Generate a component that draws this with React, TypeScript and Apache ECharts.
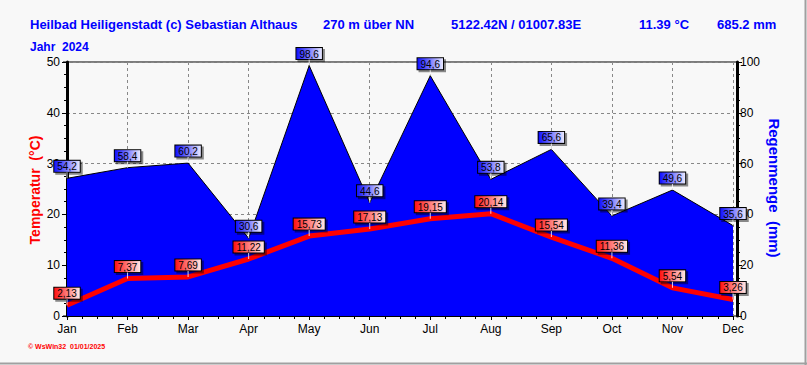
import React, { useEffect, useRef } from "react";
import * as echarts from "echarts";

const months = ["Jan", "Feb", "Mar", "Apr", "May", "Jun", "Jul", "Aug", "Sep", "Oct", "Nov", "Dec"];
const temperature = [2.13, 7.37, 7.69, 11.22, 15.73, 17.13, 19.15, 20.14, 15.54, 11.36, 5.54, 3.26];
const rainfall = [54.2, 58.4, 60.2, 30.6, 98.6, 44.6, 94.6, 53.8, 65.6, 39.4, 49.6, 35.6];

const titleMain = "Heilbad Heiligenstadt (c) Sebastian Althaus";
const titleAlt = "270 m über NN";
const titleCoord = "5122.42N / 01007.83E";
const titleTemp = "11.39 °C";
const titleRain = "685.2 mm";
const titleYear = "Jahr  2024";
const footer = "© WsWin32  01/01/2025";

const BLUE = "#0000ff";
const RED = "#ff0000";

function grad(c1: string, c2: string) {
  return {
    type: "linear",
    x: 0,
    y: 0,
    x2: 1,
    y2: 0,
    colorStops: [
      { offset: 0, color: c1 },
      { offset: 1, color: c2 },
    ],
  };
}

function labelStyle(bg: any, digits: number) {
  return {
    show: true,
    position: "top",
    distance: 6,
    fontFamily: "Liberation Sans, Arial, sans-serif",
    fontSize: 10,
    lineHeight: 10,
    color: "#000",
    backgroundColor: bg,
    borderColor: "#000",
    borderWidth: 1,
    padding: [1, 3, 0, 3],
    shadowColor: "rgba(0,0,0,0.45)",
    shadowOffsetX: 2,
    shadowOffsetY: 2,
    shadowBlur: 0,
    formatter: (p: any) => Number(p.value[1]).toFixed(digits).replace(".", ","),
  };
}

export default function App() {
  const ref = useRef<HTMLDivElement>(null);
  useEffect(() => {
    if (!ref.current) return;
    const chart = echarts.init(ref.current, undefined, { renderer: "svg" });
    const tData = temperature.map((v, i) => [i, v]);
    const rData = rainfall.map((v, i) => [i, v]);
    const font = "Liberation Sans, Arial, sans-serif";
    const titleStyle = (text: string, x: number, y: number, size = 13) => ({
      type: "text",
      x,
      y,
      style: {
        text,
        fill: BLUE,
        font: `bold ${size}px ${font}`,
        verticalAlign: "middle",
      },
    });
    chart.setOption({
      animation: false,
      backgroundColor: "#f8f8f8",
      textStyle: { fontFamily: font },
      grid: { left: 67, right: 74, top: 62, bottom: 49 },
      xAxis: {
        type: "value",
        min: 0,
        max: 11,
        interval: 1,
        axisLine: { show: true, lineStyle: { color: "#000", width: 1 } },
        axisTick: { show: true, length: 4, lineStyle: { color: "#000" } },
        minorTick: { show: true, splitNumber: 4, length: 3, lineStyle: { color: "#000" } },
        splitLine: { show: true, lineStyle: { color: "#888", type: [3, 3], width: 1 } },
        axisLabel: {
          color: "#000",
          fontSize: 12,
          margin: 7,
          formatter: (v: number) => months[v] ?? "",
        },
      },
      yAxis: [
        {
          type: "value",
          min: 0,
          max: 50,
          interval: 10,
          offset: 4,
          axisLine: { show: true, lineStyle: { color: "#000", width: 3 } },
          axisTick: { show: true, length: 5, lineStyle: { color: "#000" } },
          minorTick: { show: true, splitNumber: 4, length: 3, lineStyle: { color: "#000" } },
          splitLine: { show: true, lineStyle: { color: "#888", type: [3, 3], width: 1 } },
          axisLabel: { color: "#000", fontSize: 12, margin: 3 },
        },
        {
          type: "value",
          min: 0,
          max: 100,
          interval: 20,
          offset: 4,
          position: "right",
          axisLine: { show: true, lineStyle: { color: "#000", width: 3 } },
          axisTick: { show: true, length: 5, lineStyle: { color: "#000" } },
          minorTick: { show: true, splitNumber: 4, length: 3, lineStyle: { color: "#000" } },
          splitLine: { show: false },
          axisLabel: { color: "#000", fontSize: 12, margin: 3 },
        },
      ],
      series: [
        {
          name: "Regenmenge",
          type: "line",
          yAxisIndex: 1,
          data: rData,
          symbol: "circle",
          symbolSize: 1,
          showSymbol: true,
          itemStyle: { color: "#000" },
          lineStyle: { color: "#000", width: 1 },
          areaStyle: { color: BLUE, opacity: 1 },
          label: labelStyle(grad("#1010ff", "#e8e8ff"), 1),
          z: 1,
        },
        {
          name: "rainStick",
          type: "scatter",
          yAxisIndex: 1,
          data: rData,
          symbol: "rect",
          symbolSize: [1, 6],
          symbolOffset: [0, -3],
          itemStyle: { color: "#ffffff" },
          silent: true,
          z: 2,
        },
        {
          name: "Temperatur",
          type: "line",
          yAxisIndex: 0,
          data: tData,
          symbol: "circle",
          symbolSize: 1,
          showSymbol: true,
          itemStyle: { color: RED },
          lineStyle: { color: RED, width: 5 },
          label: labelStyle(grad("#ff1010", "#ffe8e8"), 2),
          z: 3,
        },
        {
          name: "tempStick",
          type: "scatter",
          yAxisIndex: 0,
          data: tData,
          symbol: "rect",
          symbolSize: [1, 6],
          symbolOffset: [0, -3],
          itemStyle: { color: "#ffffff" },
          silent: true,
          z: 4,
        },
      ],
      graphic: [
        { type: "line", shape: { x1: 63, y1: 62, x2: 737, y2: 62 }, style: { stroke: "#000", lineWidth: 1 } },
        { type: "line", shape: { x1: 63, y1: 316, x2: 737, y2: 316 }, style: { stroke: "#000", lineWidth: 1 }, z: -1 },
        { type: "line", shape: { x1: 0, y1: 363.5, x2: 807, y2: 363.5 }, style: { stroke: "#a0a0a0", lineWidth: 2 } },
        { type: "line", shape: { x1: 805.5, y1: 0, x2: 805.5, y2: 365 }, style: { stroke: "#a0a0a0", lineWidth: 2 } },
        titleStyle(titleMain, 30, 24),
        titleStyle(titleAlt, 323, 24),
        titleStyle(titleCoord, 451, 24),
        titleStyle(titleTemp, 639, 24),
        titleStyle(titleRain, 717, 24),
        titleStyle(titleYear, 30, 47, 12),
        {
          type: "text",
          x: 35,
          y: 190,
          rotation: Math.PI / 2,
          style: {
            text: "Temperatur  (°C)",
            fill: RED,
            font: `bold 14px ${font}`,
            align: "center",
            verticalAlign: "middle",
          },
        },
        {
          type: "text",
          x: 774,
          y: 188,
          rotation: -Math.PI / 2,
          style: {
            text: "Regenmenge  (mm)",
            fill: BLUE,
            font: `bold 15px ${font}`,
            align: "center",
            verticalAlign: "middle",
          },
        },
        {
          type: "text",
          x: 28,
          y: 346,
          style: {
            text: footer,
            fill: RED,
            font: `bold 7px ${font}`,
            verticalAlign: "middle",
          },
        },
      ],
    });
    return () => chart.dispose();
  }, []);
  return (
    <div
      ref={ref}
      style={{ position: "fixed", left: 0, top: 0, width: 807, height: 365 }}
    />
  );
}
